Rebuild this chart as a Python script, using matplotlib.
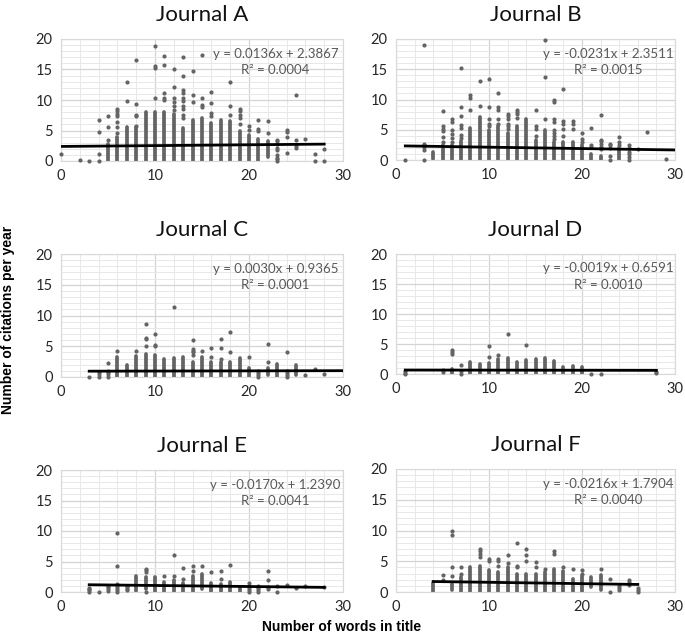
import numpy as np
import matplotlib
matplotlib.use("Agg")
import matplotlib.pyplot as plt
from matplotlib.ticker import MultipleLocator

plt.rcParams['font.family'] = ['Lato', 'DejaVu Sans']

# ---------------------------------------------------------------- data
# each journal: solid columns of stacked dots (x, low, high),
# loose dots {x: [y, ...]}, Excel trendline (slope, intercept, R2, x-span)
names = ['Journal A', 'Journal B', 'Journal C', 'Journal D', 'Journal E', 'Journal F']

a_col_x = [5, 6, 7, 8, 9, 10, 11, 12, 13, 14, 15, 16, 17, 18, 19, 20, 21, 22]
a_col_lo = [0, 0, 0, 0, 0, 0, 0, 0, 0, 0, 0, 0, 0, 0, 0, 0, 0, 0.6]
a_col_hi = [2.8, 4.0, 5.5, 5.5, 8.1, 8.0, 8.0, 7.7, 5.4, 6.8, 7.0, 6.3, 6.8, 6.5, 5.0, 4.3, 3.6, 3.2]
a_dots = {0: [1.1], 2: [0.1], 3: [0], 4: [0, 1.1, 4.7, 6.7], 5: [3.4, 5.5, 7.3],
          6: [4.6, 5.5, 6.4, 7.3, 7.7, 8.2, 8.5], 7: [9.8, 13], 8: [5.7, 7.3, 7.6, 9.4, 16.6],
          10: [10.3, 15.2, 15.5, 18.8], 11: [10, 10.3, 11.2, 15.8, 17.2],
          12: [8.4, 9.0, 9.6, 10.3, 12.2, 15], 13: [7, 7.5, 8.5, 9, 9.8, 10.3, 11.2, 11.7, 14, 17],
          14: [9.7, 10.8, 14.8], 15: [8.8, 9.2, 10.3, 17.3], 16: [7.3, 7.8, 9.5, 11.3],
          18: [7.6, 9, 13], 19: [6, 7, 7.5, 8.2, 8.5], 20: [5.1, 5.8], 21: [5, 5.3, 6.8],
          22: [4.6, 6.6], 23: [0, 0.3, 0.5, 1, 1.8, 2.2, 2.8, 3.2, 3.5], 24: [1.3, 3.9, 4.8, 5.1],
          25: [2.2, 2.5, 3.5, 10.8], 26: [3.6], 27: [0, 1.1], 28: [0, 1.9]}
a_fit = (0.0136, 2.3867, '0.0004', 0, 28)

b_col_x = [4, 5, 6, 7, 8, 9, 10, 11, 12, 13, 14, 15, 16, 17, 18, 19, 20, 21, 22, 24]
b_col_lo = [0.2, 0, 0, 0, 0, 0, 0, 0, 0, 0, 0, 0, 0, 0, 0, 0, 0, 0, 0, 0]
b_col_hi = [1.4, 2.5, 2.4, 3.2, 5.3, 7.1, 5.0, 5.6, 4.4, 5.6, 6.8, 3.3, 5.0, 3.0, 3.0, 3.0, 2.4, 1.0, 0.6, 2.0]
b_dots = {1: [0], 3: [0, 1.7, 2.2, 2.5, 2.7, 19], 5: [3, 3.8, 4.8, 5.2, 5.6, 8.1],
          6: [3, 3.6, 4.3, 5, 6.3, 6.7], 7: [3.6, 4.2, 5.3, 5.8, 7.2, 8.7, 15.2],
          8: [8.2, 10.3, 10.7], 9: [9, 13], 10: [5.6, 6, 6.7, 8.7, 13.4],
          11: [6, 6.7, 8.3, 8.7, 11], 12: [5.2, 5.6, 6, 6.7, 7.3, 7.6], 13: [7, 7.6, 8, 8.3],
          15: [4, 5.2, 5.6, 8.2], 16: [6.7, 13.8, 19.8],
          17: [3.5, 4, 4.4, 5, 6.3, 6.7, 9.6, 10], 18: [4, 5.2, 6, 6.4, 11.8],
          19: [5.2, 6, 6.4], 20: [3, 3.5, 4.4], 21: [2.2, 2.5, 5.3],
          22: [1.8, 2.2, 2.6, 3.1, 3.3, 7.5], 23: [0, 0.7, 2, 2.5, 2.7], 24: [2.4, 3, 3.8],
          25: [0, 0.5, 1, 1.4, 2, 2.4], 26: [1.9], 27: [4.6], 29: [0.1]}
b_fit = (-0.0231, 2.3511, '0.0015', 1, 30)

c_col_x = [6, 7, 8, 9, 10, 11, 12, 13, 14, 15, 16, 17, 18, 19, 20, 22, 23, 25]
c_col_lo = [0, 0, 0, 0, 0, 0, 0, 0, 0, 0, 0, 0, 0, 0, 0, 0.3, 0, 0.3]
c_col_hi = [3.3, 1.9, 3.4, 3.8, 3.5, 2.9, 3.1, 3.3, 2.5, 3.2, 2.5, 2.5, 2.5, 3.1, 1.5, 1.5, 2.1, 2.0]
c_dots = {3: [0], 4: [0, 0.5, 0.8], 5: [0, 0.5, 0.8, 1, 2.3], 6: [4.3], 8: [4.3],
          9: [5, 6.2, 6.4, 8.6], 10: [5, 5.2, 7], 12: [11.4], 14: [3.5, 4, 4.3, 4.6, 6],
          15: [4.3], 16: [3.2, 4.7], 17: [3, 4.7, 6.1], 18: [4, 7.3], 20: [3.2],
          21: [0, 0.3, 0.6, 1], 22: [2.4, 5.3], 24: [0, 0.3, 0.6, 1, 4],
          26: [0.4], 27: [1.3], 28: [0.5]}
c_fit = (0.0030, 0.9365, '0.0001', 3, 30)

d_col_x = [6, 8, 9, 10, 11, 12, 13, 14, 15, 16, 17, 18, 19, 20]
d_col_lo = [0, 0, 0, 0, 0, 0, 0, 0, 0, 0, 0, 0, 0, 0]
d_col_hi = [0.8, 2.0, 1.7, 1.8, 2.5, 2.6, 2.0, 2.4, 2.5, 2.7, 2.2, 1.1, 1.4, 1.1]
d_dots = {1: [0, 0.2, 0.5], 5: [0.3, 0.7], 6: [3.4, 3.7, 4], 7: [0, 0.5, 1.5],
          10: [2.8, 4.6], 11: [3.2], 12: [6.6], 14: [4.8], 21: [0], 22: [0], 28: [0.1, 0.3]}
d_fit = (-0.0019, 0.6591, '0.0010', 1, 28)

e_col_x = [8, 9, 10, 11, 12, 13, 14, 15, 16, 17, 18, 19]
e_col_lo = [0.2, 0.5, 0, 0, 0, 0, 0, 0.5, 0, 0, 0, 0]
e_col_hi = [2.7, 2.5, 2.5, 1.7, 1.9, 1.4, 2.6, 3.0, 1.5, 1.3, 1.6, 0.9]
e_dots = {3: [0, 0.3, 0.5, 0.7], 4: [0], 5: [0.2, 0.5, 0.8, 1],
          6: [0, 0.3, 0.7, 1, 1.3, 4.3, 9.6], 7: [0.3, 0.5, 0.8, 1], 9: [0, 3.3, 3.6, 3.7],
          11: [2.6], 12: [2.6, 6], 13: [2.2, 4], 14: [3.5, 4.2], 15: [4.3], 16: [3.3],
          17: [2.2, 3.5], 18: [4.5], 20: [0, 0.3, 0.7, 1, 1.4], 21: [0, 0.3, 0.6, 0.9, 1],
          22: [0.5, 0.8, 2, 3.5], 23: [0, 1], 24: [1.2], 25: [0.7], 26: [1], 28: [0.8]}
e_fit = (-0.0170, 1.2390, '0.0041', 3, 28)

f_col_x = [4, 6, 7, 8, 9, 10, 11, 12, 13, 14, 15, 16, 17, 18, 19, 20, 21, 22]
f_col_lo = [0, 0.3, 0, 0, 0, 0, 0, 0, 0, 0, 0, 0, 0, 0, 0, 0, 0.8, 0.3]
f_col_hi = [1.5, 1.3, 2.5, 4.1, 4.2, 3.6, 3.3, 4.0, 3.0, 2.9, 3.0, 3.2, 3.7, 3.4, 2.1, 2.6, 2.5, 2.7]
f_dots = {5: [2, 2.7], 6: [2.6, 4, 9.3, 10], 7: [3, 4], 9: [5.7, 6.2, 6.6, 7],
          10: [5, 5.3], 11: [4.3, 5, 5.3], 12: [4.7, 6], 13: [4, 4.3, 8], 14: [5, 6, 7],
          15: [4, 4.8], 16: [3.8], 17: [6.2, 6.7], 18: [4], 19: [3.8], 20: [3, 3.6],
          22: [3.8], 23: [0, 2.1], 24: [0.3, 0.6, 1], 25: [1.2, 1.6, 2], 26: [0, 0.3, 0.6]}
f_fit = (-0.0216, 1.7904, '0.0040', 4, 26)

journals = [
    (a_col_x, a_col_lo, a_col_hi, a_dots, a_fit),
    (b_col_x, b_col_lo, b_col_hi, b_dots, b_fit),
    (c_col_x, c_col_lo, c_col_hi, c_dots, c_fit),
    (d_col_x, d_col_lo, d_col_hi, d_dots, d_fit),
    (e_col_x, e_col_lo, e_col_hi, e_dots, e_fit),
    (f_col_x, f_col_lo, f_col_hi, f_dots, f_fit),
]

# axes boxes in pixels (left, top, right, bottom) on a 685x641 canvas
boxes = [(61, 39, 343, 161), (396, 39, 675, 160),
         (61, 254, 343, 377), (396, 254, 675, 374),
         (61, 470, 343, 592), (396, 469, 675, 592)]

W, H = 685, 641
dot_col = '#646464'

fig = plt.figure(figsize=(W / 100, H / 100), dpi=100)

for (name, (cx, clo, chi, dots, fit), box) in zip(names, journals, boxes):
    l, t, r, b = box
    ax = fig.add_axes([l / W, 1 - b / H, (r - l) / W, (b - t) / H])

    ax.set_xlim(0, 30)
    ax.set_ylim(0, 20)
    ax.xaxis.set_major_locator(MultipleLocator(10))
    ax.xaxis.set_minor_locator(MultipleLocator(2))
    ax.yaxis.set_major_locator(MultipleLocator(5))
    ax.yaxis.set_minor_locator(MultipleLocator(1))
    ax.grid(which='major', color='#d4d4d4', lw=0.9)
    ax.grid(which='minor', color='#e8e8e8', lw=0.7)
    ax.set_axisbelow(True)
    ax.tick_params(which='both', length=0, labelsize=10.5, colors='#262626', pad=6)
    for s in ax.spines.values():
        s.set_color('#d9d9d9')
        s.set_linewidth(0.8)

    # dense columns of overlapping dots
    vl = ax.vlines(cx, clo, chi, colors=dot_col, lw=2.7)
    vl.set_capstyle('round')

    # loose dots
    dx = [x for x, ys in dots.items() for _ in ys]
    dy = [y for ys in dots.values() for y in ys]
    ax.scatter(dx, dy, s=9, color=dot_col, lw=0, clip_on=False, zorder=3)

    slope, icpt, r2, x0, x1 = fit
    xs = np.array([x0, x1])
    ax.plot(xs, slope * xs + icpt, color='black', lw=2.0, zorder=4)

    ax.set_title(name, fontsize=16, pad=13, color='#111111')
    sign = '-' if slope < 0 else ''
    ax.text(0.76, 0.88, 'y = %s%.4fx + %.4f' % (sign, abs(slope), icpt),
            transform=ax.transAxes, ha='center', va='center', fontsize=9.5, color='#595959')
    ax.text(0.76, 0.745, 'R\u00b2 = %s' % r2, transform=ax.transAxes,
            ha='center', va='center', fontsize=9.5, color='#595959')

fig.text(8 / W, 1 - 320 / H, 'Number of citations per year', rotation=90,
         ha='center', va='center', fontsize=10, fontweight='bold',
         family='Liberation Sans')
fig.text(342 / W, 1 - 627 / H, 'Number of words in title', ha='center',
         va='center', fontsize=10, fontweight='bold', family='Liberation Sans')

fig.savefig('out.png', dpi=100)
